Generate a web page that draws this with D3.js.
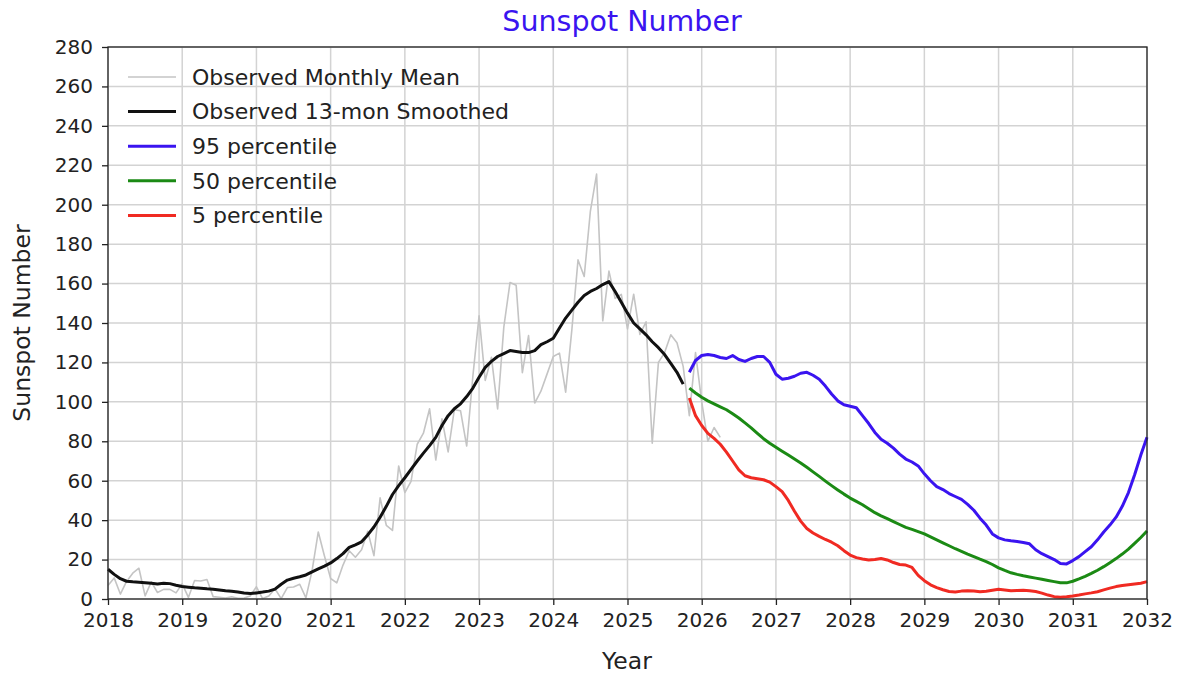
<!DOCTYPE html>
<html>
<head>
<meta charset="utf-8">
<script src="https://cdn.jsdelivr.net/npm/d3@7"></script>
<style>
  body { margin: 0; background: #fff; }
  text { font-family: "DejaVu Sans", sans-serif; fill: #222; }
</style>
</head>
<body>
<script>
// monthly mean, Jan 2018 onwards
const monthlyStart = 2018;
const monthlyMean = [
  6.8, 10.7, 2.5, 8.9, 13.1, 15.6, 1.6, 8.7, 3.3, 4.9, 4.9, 3.1,
  7.7, 0.8, 9.4, 9.1, 9.9, 1.2, 0.9, 0.5, 1.1, 0.4, 0.5, 1.5,
  6.2, 0.2, 1.5, 5.2, 0.2, 5.8, 6.1, 7.5, 0.6, 14.4, 34.0, 21.8,
  10.4, 8.2, 17.2, 24.5, 21.2, 25.0, 34.3, 22.0, 51.3, 37.4, 34.8, 67.5,
  54.0, 59.7, 78.5, 84.1, 96.5, 70.5, 91.4, 74.6, 96.0, 95.5, 77.6, 113.1,
  143.6, 110.9, 122.6, 96.4, 137.9, 160.5, 159.1, 114.8, 133.6, 99.4, 105.4, 114.2,
  123.0, 124.7, 104.9, 136.5, 172.0, 163.6, 196.8, 215.5, 141.1, 166.3, 152.5, 154.5,
  137.0, 154.6, 134.2, 140.6, 79.0, 120, 125, 134, 130, 118, 93, 125,
  100, 80, 87, 82
];

// 13-month smoothed, Jan 2018 onwards
const smoothed = [
  15.1, 12.5, 10.3, 9.0, 8.7, 8.5, 8.3, 8.0, 7.6, 8.0, 7.8, 7.0,
  6.3, 6.0, 5.7, 5.5, 5.2, 5.0, 4.6, 4.2, 3.9, 3.5, 3.0, 2.8,
  3.1, 3.5, 4.0, 5.0, 7.5, 9.6, 10.5, 11.3, 12.2, 13.8, 15.3, 16.7,
  18.3, 20.5, 23.0, 26.2, 27.5, 29.0, 32.5, 36.5, 41.5, 47, 53, 57.5,
  61.5, 65.8, 70, 74, 77.8, 82, 88, 93, 96.5, 99, 102.7, 107,
  112.5, 117.5, 120.5, 123, 124.5, 126, 125.5, 125, 125, 126, 129, 130.5,
  132.3, 137.5, 142.5, 146.5, 150.5, 154, 156, 157.5, 159.5, 161, 156, 150.5,
  145, 140, 137, 134, 130.5, 127.5, 124, 119.5, 115, 109
];

// predictions, monthly from Nov 2025
const predStart = 2025 + 10 / 12;
const p95 = [
  115, 121, 123.5, 124, 123.5, 122.5, 122, 123.5, 121.5, 120.5, 122, 123,
  123, 120, 114, 111.5, 112, 113, 114.5, 115, 113.5, 111.5, 108, 104,
  100.5, 98.5, 97.8, 97, 93, 89, 84.5, 81, 79, 76.5, 73.5, 71,
  69.5, 67.5, 63.5, 60, 57, 55.5, 53.5, 52, 50.5, 48, 45, 41,
  37.5, 33, 31, 30, 29.5, 29.2, 28.7, 28, 25, 23, 21.5, 20,
  18, 17.8, 19.5, 21.5, 24, 26.5, 30, 34, 37.5, 41.5, 47, 54,
  63, 73, 82
];
const p50 = [
  107, 104.5, 102.3, 100.5, 99, 97.5, 96, 94, 91.8, 89.3, 86.8, 84,
  81.3, 79, 77, 75, 73, 71, 69, 66.8, 64.5, 62.2, 59.8, 57.5,
  55.3, 53.2, 51.2, 49.5, 47.8, 45.8, 43.8, 42.2, 40.8, 39.3, 37.8, 36.3,
  35.3, 34.2, 33, 31.5, 30, 28.5, 27, 25.5, 24.2, 22.8, 21.5, 20.2,
  19, 17.5, 15.8, 14.5, 13.3, 12.5, 11.8, 11.2, 10.6, 10, 9.4, 8.8,
  8.2, 8.2, 9, 10.2, 11.5, 13, 14.6, 16.4, 18.4, 20.5, 22.8, 25.3,
  28.2, 31.2, 34.5
];
const p5 = [
  102, 93, 88, 84, 81.5, 78.5, 74.5, 70, 65.5, 62.5, 61.5, 61,
  60.5, 59.3, 57, 54.5, 50, 44.5, 39.5, 35.8, 33.5, 31.8, 30.2, 28.8,
  27, 24.5, 22.3, 21, 20.3, 19.8, 20, 20.5, 19.8, 18.5, 17.5, 17.2,
  16, 12, 9.3, 7.2, 5.8, 4.7, 3.8, 3.6, 4, 4.2, 4, 3.7,
  3.9, 4.4, 4.9, 4.6, 4.2, 4.3, 4.4, 4.2, 3.8, 3, 2, 1.2,
  0.9, 1.1, 1.5, 2, 2.6, 3.1, 3.7, 4.6, 5.5, 6.3, 6.8, 7.2,
  7.6, 8, 8.8
];

const yearTicks = d3.range(2018, 2033);
const valueTicks = d3.range(0, 281, 20);

const legendLabels = ['Observed Monthly Mean', 'Observed 13-mon Smoothed',
  '95 percentile', '50 percentile', '5 percentile'];

const width = 1185, height = 676;
const margin = { top: 47, right: 38, bottom: 77, left: 108 };

const svg = d3.select('body').append('svg')
  .attr('width', width)
  .attr('height', height);

const x = d3.scaleLinear().domain([2018, 2032]).range([margin.left, width - margin.right]);
const y = d3.scaleLinear().domain([0, 280]).range([height - margin.bottom, margin.top]);

// grid
svg.append('g')
  .selectAll('line')
  .data(yearTicks)
  .join('line')
  .attr('x1', d => x(d)).attr('x2', d => x(d))
  .attr('y1', y(0)).attr('y2', y(280))
  .attr('stroke', '#d3d3d3').attr('stroke-width', 1.5);

svg.append('g')
  .selectAll('line')
  .data(valueTicks)
  .join('line')
  .attr('x1', x(2018)).attr('x2', x(2032))
  .attr('y1', d => y(d)).attr('y2', d => y(d))
  .attr('stroke', '#d3d3d3').attr('stroke-width', 1.5);

// series
const line = d3.line().x(d => x(d[0])).y(d => y(d[1]));
const monthly = (start, arr) => arr.map((v, i) => [start + i / 12, v]);

const series = [
  { data: monthly(monthlyStart, monthlyMean), color: '#c4c4c4', w: 1.6 },
  { data: monthly(monthlyStart, smoothed), color: '#111', w: 3 },
  { data: monthly(predStart, p95), color: '#3a14f0', w: 3 },
  { data: monthly(predStart, p50), color: '#1b8a14', w: 3 },
  { data: monthly(predStart, p5), color: '#f02a22', w: 3 }
];

svg.append('g')
  .selectAll('path')
  .data(series)
  .join('path')
  .attr('d', d => line(d.data))
  .attr('fill', 'none')
  .attr('stroke', d => d.color)
  .attr('stroke-width', d => d.w)
  .attr('stroke-linejoin', 'round');

// axes
const xAxis = svg.append('g')
  .attr('transform', `translate(0,${y(0)})`)
  .call(d3.axisBottom(x).tickValues(yearTicks).tickFormat(d3.format('d')).tickSize(6).tickSizeOuter(0));
const yAxis = svg.append('g')
  .attr('transform', `translate(${x(2018)},0)`)
  .call(d3.axisLeft(y).tickValues(valueTicks).tickSize(6).tickSizeOuter(0));

[xAxis, yAxis].forEach(a => {
  a.select('.domain').remove();
  a.selectAll('line').attr('stroke', '#222').attr('stroke-width', 1.3);
  a.selectAll('text').attr('font-size', 20).attr('fill', '#222')
    .attr('font-family', '"DejaVu Sans", sans-serif');
});
xAxis.selectAll('text').attr('y', 13).attr('dy', '0.75em');
yAxis.selectAll('text').attr('x', -15);

// frame
svg.append('rect')
  .attr('x', x(2018)).attr('y', y(280))
  .attr('width', x(2032) - x(2018)).attr('height', y(0) - y(280))
  .attr('fill', 'none').attr('stroke', '#222').attr('stroke-width', 1.3);

// labels
svg.append('text')
  .text('Sunspot Number')
  .attr('x', 622)
  .attr('y', 31)
  .attr('text-anchor', 'middle')
  .attr('font-size', 28.5)
  .style('fill', '#3a14f0');

svg.append('text')
  .text('Year')
  .attr('x', 627)
  .attr('y', 669)
  .attr('text-anchor', 'middle')
  .attr('font-size', 23.5);

svg.append('text')
  .text('Sunspot Number')
  .attr('transform', `translate(30,${(y(0) + y(280)) / 2}) rotate(-90)`)
  .attr('text-anchor', 'middle')
  .attr('font-size', 23.5);

// legend
const legend = svg.append('g')
  .selectAll('g')
  .data(legendLabels)
  .join('g')
  .attr('transform', (d, i) => `translate(128,${77 + i * 34.6})`);

legend.append('line')
  .attr('x1', 0).attr('x2', 48)
  .attr('stroke', (d, i) => series[i].color)
  .attr('stroke-width', (d, i) => series[i].w);

legend.append('text')
  .text(d => d)
  .attr('x', 64)
  .attr('dy', '0.35em')
  .attr('font-size', 22);
</script>
</body>
</html>
